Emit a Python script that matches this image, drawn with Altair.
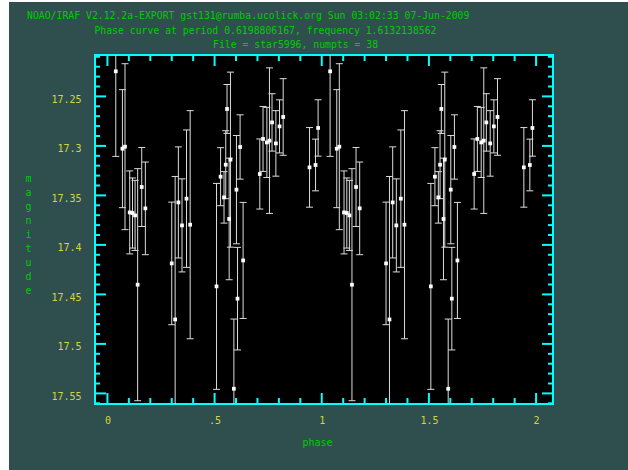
import altair as alt
import pandas as pd

# Phase-folded photometry of star5996 (38 measurements)
phase = [0.039, 0.070, 0.082, 0.104, 0.117, 0.129, 0.141, 0.160, 0.177,
         0.300, 0.316, 0.331, 0.348, 0.369, 0.386,
         0.509, 0.528, 0.544, 0.552, 0.558, 0.568, 0.574, 0.590, 0.602,
         0.607, 0.619, 0.633,
         0.711, 0.726, 0.744, 0.756, 0.768, 0.786, 0.803, 0.820,
         0.943, 0.971, 0.983]
magnitude = [17.2247, 17.3028, 17.3008, 17.3672, 17.3678, 17.3702, 17.4402, 17.3415, 17.3631,
             17.4187, 17.4753, 17.3571, 17.3803, 17.3533, 17.3796,
             17.4419, 17.3311, 17.3520, 17.3190, 17.2627, 17.3738, 17.3139, 17.5453, 17.3442,
             17.4543, 17.3011, 17.4157,
             17.3284, 17.2930, 17.2965, 17.2947, 17.2763, 17.2975, 17.2803, 17.2708,
             17.3217, 17.3193, 17.2819]
mag_err = [0.0859, 0.0596, 0.0838, 0.0419, 0.0354, 0.0354, 0.1172, 0.0399, 0.0468,
           0.0619, 0.1444, 0.0561, 0.0470, 0.0694, 0.1152,
           0.1040, 0.0293, 0.0260, 0.0343, 0.0247, 0.0614, 0.0884, 0.0704, 0.0547,
           0.0518, 0.0325, 0.0586,
           0.0354, 0.0328, 0.0354, 0.0735, 0.0290, 0.0331, 0.0268, 0.0387,
           0.0402, 0.0261, 0.0285]

x_label_values = [0, 0.5, 1, 1.5, 2]
y_label_values = [17.25, 17.3, 17.35, 17.4, 17.45, 17.5, 17.55]
x_minor_values = [round(0.1 * i, 1) for i in range(1, 20) if i % 5 != 0]
y_minor_values = [round(17.21 + 0.01 * i, 2) for i in range(36)]
y_minor_values = [v for v in y_minor_values if v not in y_label_values]

header = [
    "NOAO/IRAF V2.12.2a-EXPORT gst131@rumba.ucolick.org Sun 03:02:33 07-Jun-2009",
    "Phase curve at period 0.6198806167, frequency 1.6132138562",
    "File = star5996, numpts = 38",
]

# two cycles of the phase curve
rows = []
for cycle in (0, 1):
    for p, m, e in zip(phase, magnitude, mag_err):
        rows.append({"phase": p + cycle, "mag": m, "lo": m - e, "hi": m + e})
df = pd.DataFrame(rows)

W, H = 458, 349
BG = "#2f4f4f"
CYAN = "#00ffff"
GREEN = "#00cc00"
YELLOW = "#d4d43c"
FONT = "DejaVu Sans Mono"

x_scale = alt.Scale(domain=[-0.058, 2.079], nice=False, zero=False)
y_scale = alt.Scale(domain=[17.2082, 17.5607], nice=False, zero=False, reverse=True)

x_axis = alt.Axis(
    values=x_label_values, labelExpr="datum.value == 0.5 ? '.5' : format(datum.value, '~g')",
    domain=False, ticks=False, tickSize=0, grid=False,
    labelColor=YELLOW, labelFont=FONT, labelFontSize=10, labelPadding=11,
    labelBaseline="top",
    title="phase", titleColor=GREEN, titleFont=FONT, titleFontSize=10,
    titleFontWeight="normal", titleX=222, titleY=38, titleBaseline="middle",
)
y_axis = alt.Axis(
    values=y_label_values, format="~g",
    domain=False, ticks=False, tickSize=0, grid=False,
    labelColor=YELLOW, labelFont=FONT, labelFontSize=10, labelPadding=14,
    labelBaseline="middle", labelOffset=3,
    title=list("magnitude"), titleColor=GREEN, titleFont=FONT, titleFontSize=10,
    titleFontWeight="normal", titleAngle=0, titleLineHeight=14,
    titleX=-67, titleY=123, titleBaseline="middle", titleAlign="center",
)


def X(field):
    return alt.X(field, scale=x_scale, axis=x_axis)


def Y(field):
    return alt.Y(field, scale=y_scale, axis=y_axis)


one = pd.DataFrame({"k": [0]})

# page strips outside the slate panel
strips = alt.layer(
    alt.Chart(one).mark_rect(color="white").encode(
        x=alt.value(-95), x2=alt.value(-86), y=alt.value(-55), y2=alt.value(415)),
    alt.Chart(one).mark_rect(color="white").encode(
        x=alt.value(-95), x2=alt.value(533), y=alt.value(-55), y2=alt.value(-53)),
)

base = alt.Chart(df)
BAR = "#dcdcdc"

bars = base.mark_rule(color=BAR, strokeWidth=1, clip=True).encode(
    x=X("phase:Q"), y=Y("lo:Q"), y2="hi:Q",
)
cap_lo = base.mark_rule(color=BAR, strokeWidth=1, clip=True,
                        xOffset=-3.5, x2Offset=3.5).encode(
    x=X("phase:Q"), x2="phase:Q", y=Y("lo:Q"),
)
cap_hi = base.mark_rule(color=BAR, strokeWidth=1, clip=True,
                        xOffset=-3.5, x2Offset=3.5).encode(
    x=X("phase:Q"), x2="phase:Q", y=Y("hi:Q"),
)
points = base.mark_square(color="white", size=14, opacity=1).encode(
    x=X("phase:Q"), y=Y("mag:Q"),
)


def x_ticks(values, length):
    d = pd.DataFrame({"v": values})
    c = alt.Chart(d).mark_rule(color=CYAN, strokeWidth=2)
    return alt.layer(
        c.encode(x=X("v:Q"), y=alt.value(H), y2=alt.value(H - length)),
        c.encode(x=X("v:Q"), y=alt.value(0), y2=alt.value(length)),
    )


def y_ticks(values, length):
    d = pd.DataFrame({"v": values})
    c = alt.Chart(d).mark_rule(color=CYAN, strokeWidth=2)
    return alt.layer(
        c.encode(y=Y("v:Q"), x=alt.value(0), x2=alt.value(length)),
        c.encode(y=Y("v:Q"), x=alt.value(W), x2=alt.value(W - length)),
    )


header_marks = alt.layer(*[
    alt.Chart(one).mark_text(text=t, color=GREEN, font=FONT, fontSize=9.8,
                             align="left", baseline="middle").encode(
        x=alt.value(xp), y=alt.value(yp))
    for t, xp, yp in zip(header, [-68, -0.6, 118], [-39, -24, -10])
])

chart = alt.layer(
    strips, bars, cap_lo, cap_hi, points,
    x_ticks(x_label_values, 11), x_ticks(x_minor_values, 6),
    y_ticks(y_label_values, 11), y_ticks(y_minor_values, 5),
    header_marks,
).properties(
    width=W, height=H,
    autosize=alt.AutoSizeParams(type="none"),
    padding={"left": 95, "top": 55, "right": 628 - 95 - W, "bottom": 470 - 55 - H},
    background=BG,
).configure_view(
    fill="black", stroke=CYAN, strokeWidth=2,
)

chart.save("out.html", embed_options={"renderer": "svg", "actions": False})
